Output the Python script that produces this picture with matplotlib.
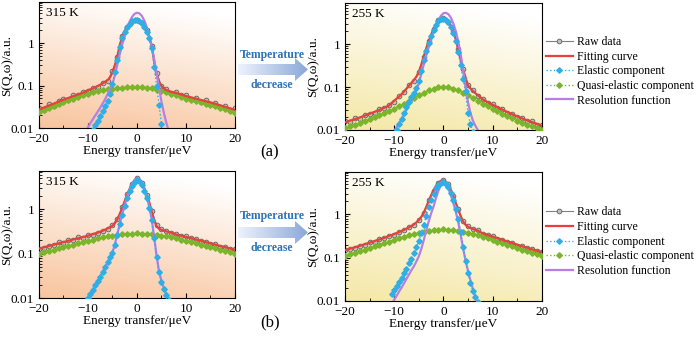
import numpy as np
import matplotlib
matplotlib.use('Agg')
import matplotlib.pyplot as plt
from matplotlib.patches import Polygon
from matplotlib.ticker import FixedLocator, LogLocator, NullFormatter

plt.rcParams['font.family'] = ['Liberation Serif', 'DejaVu Serif']
plt.rcParams['font.size'] = 9

# energy grids (ueV)
e_raw = np.arange(-20, 21)
e_mid = np.arange(-10.5, 7.5, 0.5)
e_fit = np.concatenate([np.arange(-20, -10), e_mid, np.arange(8, 21)])

temps = ['315 K', '255 K', '315 K', '255 K']
ytops = [9.3, 9.3, 7.3, 9.5]

# (a) 315 K
raw_a315 = [0.029, 0.027, 0.036, 0.034, 0.044, 0.049, 0.047, 0.060, 0.059, 0.072, 0.074, 0.090, 0.094, 0.118,
            0.13, 0.22, 0.47, 1.5, 2.4, 3.4, 3.6, 3.0, 2.0, 0.85, 0.2, 0.1, 0.083, 0.068, 0.07, 0.06, 0.059,
            0.048, 0.052, 0.041, 0.045, 0.037, 0.039, 0.032, 0.033, 0.027, 0.029]
fit_a315 = [0.0275, 0.0305, 0.0339, 0.0377, 0.042, 0.0467, 0.0514, 0.0566, 0.0621, 0.0681,
            0.073, 0.077, 0.082, 0.086, 0.092, 0.098, 0.105, 0.113, 0.124, 0.135, 0.156, 0.207, 0.306, 0.496,
            0.93, 1.42, 1.96, 2.50, 2.98, 3.34, 3.57, 3.57, 3.41, 3.05, 2.55, 1.96, 1.39, 0.886, 0.374, 0.191,
            0.122, 0.097, 0.085, 0.079, 0.075, 0.071,
            0.0674, 0.0618, 0.0569, 0.053, 0.0496, 0.0462, 0.0431, 0.0403, 0.0373, 0.0344, 0.0316, 0.0292, 0.0268]
ela_a315 = [0.0037, 0.0050, 0.0068, 0.0089, 0.0117, 0.0151, 0.0195, 0.0257, 0.0339, 0.0437, 0.063, 0.112,
            0.209, 0.398, 0.83, 1.32, 1.86, 2.40, 2.88, 3.24, 3.47, 3.47, 3.31, 2.95, 2.45, 1.86, 1.29, 0.79,
            0.28, 0.10, 0.035, 0.0126, 0.0045, 0.0016, 0.0006, 0.0002]
qe_a315 = [0.0239, 0.0265, 0.0295, 0.0328, 0.0365, 0.0406, 0.0447, 0.0492, 0.0540, 0.0592, 0.0646, 0.0692,
           0.0738, 0.0780, 0.0817, 0.0851, 0.0875, 0.0895, 0.0912, 0.0925, 0.093, 0.0920, 0.0895, 0.0859,
           0.0809, 0.0750, 0.0692, 0.0637, 0.0586, 0.0537, 0.0495, 0.0461, 0.0431, 0.0402, 0.0375, 0.0350,
           0.0324, 0.0299, 0.0275, 0.0254, 0.0233]
res_a315 = [0.0087, 0.0105, 0.0132, 0.0162, 0.0200, 0.0245, 0.0302, 0.0380, 0.0479, 0.0631, 0.0832, 0.110,
            0.178, 0.316, 0.562, 0.933, 1.51, 2.29, 3.24, 4.17, 4.90, 5.20, 5.01, 4.37, 3.39, 2.34, 1.41,
            0.832, 0.417, 0.191, 0.0891, 0.0417, 0.0224, 0.0132, 0.0083, 0.0050]

# (a) 255 K
raw_a255 = [0.016, 0.015, 0.019, 0.018, 0.022, 0.024, 0.025, 0.031, 0.032, 0.039, 0.046, 0.063, 0.077, 0.11,
            0.14, 0.23, 0.50, 1.2, 2.2, 3.6, 4.1, 3.3, 2.0, 0.78, 0.26, 0.11, 0.085, 0.062, 0.053, 0.043, 0.040,
            0.033, 0.031, 0.025, 0.024, 0.020, 0.019, 0.016, 0.016, 0.013, 0.013]
fit_a255 = [0.0151, 0.0165, 0.0178, 0.0196, 0.0216, 0.0239, 0.0265, 0.0294, 0.0331, 0.0374,
            0.043, 0.048, 0.054, 0.060, 0.068, 0.079, 0.092, 0.107, 0.125, 0.146, 0.173, 0.225, 0.330, 0.513,
            0.794, 1.16, 1.66, 2.26, 2.94, 3.52, 4.02, 4.08, 3.85, 3.37, 2.69, 1.98, 1.31, 0.769, 0.433, 0.254,
            0.169, 0.109, 0.092, 0.081, 0.072, 0.065,
            0.0515, 0.0446, 0.0388, 0.0339, 0.0298, 0.0263, 0.0233, 0.0208, 0.0186, 0.0168, 0.0153, 0.0139, 0.0126]
ela_a255 = [0.0050, 0.0071, 0.0100, 0.0135, 0.0182, 0.0251, 0.0339, 0.0447, 0.0575, 0.0741, 0.0955, 0.141,
            0.240, 0.417, 0.692, 1.05, 1.55, 2.14, 2.82, 3.39, 3.89, 3.95, 3.72, 3.24, 2.57, 1.86, 1.20, 0.661,
            0.331, 0.158, 0.0794, 0.0251, 0.0141, 0.0089, 0.0050, 0.0025]
qe_a255 = [0.0112, 0.0122, 0.0132, 0.0145, 0.016, 0.0177, 0.0196, 0.0218, 0.0245, 0.0277, 0.0315, 0.036,
           0.0414, 0.0478, 0.0555, 0.0642, 0.0737, 0.0833, 0.0918, 0.0978, 0.1, 0.0978, 0.0918, 0.0833,
           0.0737, 0.0642, 0.0555, 0.0478, 0.0412, 0.0357, 0.031, 0.0271, 0.0238, 0.021, 0.0186, 0.0166,
           0.0149, 0.0134, 0.0122, 0.0111, 0.0101]
res_a255 = [0.0079, 0.0095, 0.0117, 0.0145, 0.0182, 0.0229, 0.0295, 0.0380, 0.0490, 0.0646, 0.0851, 0.120,
            0.200, 0.331, 0.537, 0.832, 1.29, 1.91, 2.69, 3.63, 4.57, 5.25, 5.37, 5.01, 4.17, 3.09, 2.04,
            1.20, 0.603, 0.251, 0.100, 0.0447, 0.0251, 0.0166, 0.0126, 0.0100]

# (b) 315 K
raw_b315 = [0.13, 0.135, 0.15, 0.155, 0.18, 0.175, 0.20, 0.205, 0.235, 0.23, 0.26, 0.27, 0.30, 0.32, 0.36,
            0.44, 0.62, 1.1, 2.2, 3.8, 5.0, 3.9, 2.1, 0.92, 0.45, 0.36, 0.33, 0.30, 0.28, 0.25, 0.245, 0.22,
            0.21, 0.19, 0.185, 0.165, 0.165, 0.145, 0.14, 0.128, 0.125]
fit_b315 = [0.130, 0.139, 0.149, 0.159, 0.170, 0.182, 0.195, 0.209, 0.223, 0.238,
            0.245, 0.254, 0.265, 0.275, 0.287, 0.299, 0.314, 0.329, 0.348, 0.371, 0.395, 0.425, 0.487, 0.603,
            0.793, 1.09, 1.53, 2.13, 2.90, 3.78, 4.56, 4.96, 4.66, 3.94, 3.00, 2.11, 1.43, 0.903, 0.563, 0.418,
            0.365, 0.343, 0.329, 0.318, 0.308, 0.297,
            0.269, 0.254, 0.239, 0.224, 0.209, 0.196, 0.183, 0.171, 0.160, 0.149, 0.140, 0.131, 0.122]
ela_b315 = [0.0080, 0.0098, 0.0125, 0.0150, 0.0192, 0.0236, 0.0300, 0.0380, 0.0490, 0.0640, 0.0820, 0.105,
            0.160, 0.270, 0.455, 0.75, 1.18, 1.78, 2.55, 3.42, 4.20, 4.60, 4.30, 3.58, 2.65, 1.76, 1.08, 0.56,
            0.225, 0.085, 0.038, 0.023, 0.016, 0.0115, 0.0088, 0.006]
qe_b315 = [0.1003, 0.1071, 0.1144, 0.1224, 0.1309, 0.1401, 0.150, 0.1605, 0.1716, 0.1833, 0.1955, 0.208,
           0.2206, 0.2331, 0.2452, 0.2563, 0.2663, 0.2746, 0.2808, 0.2847, 0.286, 0.2847, 0.2808, 0.2746,
           0.2663, 0.2563, 0.2452, 0.2331, 0.2206, 0.208, 0.1955, 0.1833, 0.1716, 0.1605, 0.150, 0.1401,
           0.1309, 0.1224, 0.1144, 0.1071, 0.1003]
res_b315 = [0.0079, 0.0100, 0.0126, 0.0155, 0.0195, 0.0240, 0.0302, 0.0389, 0.0501, 0.0646, 0.0832, 0.107,
            0.166, 0.282, 0.479, 0.794, 1.26, 1.91, 2.75, 3.72, 4.57, 5.01, 4.68, 3.89, 2.88, 1.91, 1.17,
            0.603, 0.240, 0.0891, 0.0398, 0.0240, 0.0166, 0.0120, 0.0091, 0.0063]

# (b) 255 K
raw_b255 = [0.15, 0.16, 0.17, 0.19, 0.20, 0.225, 0.235, 0.27, 0.28, 0.32, 0.34, 0.40, 0.43, 0.51, 0.57, 0.75,
            1.05, 2.1, 3.5, 5.4, 6.1, 4.9, 2.6, 1.35, 0.70, 0.53, 0.45, 0.43, 0.36, 0.33, 0.31, 0.27, 0.26,
            0.23, 0.22, 0.19, 0.19, 0.165, 0.16, 0.14, 0.135]
fit_b255 = [0.149, 0.161, 0.173, 0.188, 0.204, 0.222, 0.241, 0.263, 0.286, 0.320,
            0.334, 0.351, 0.370, 0.390, 0.413, 0.438, 0.467, 0.501, 0.539, 0.586, 0.650, 0.737, 0.870, 1.08,
            1.47, 2.03, 2.75, 3.59, 4.55, 5.37, 5.95, 6.09, 5.69, 4.83, 3.71, 2.69, 1.86, 1.32, 0.912, 0.680,
            0.573, 0.518, 0.484, 0.459, 0.439, 0.420,
            0.364, 0.335, 0.307, 0.282, 0.258, 0.237, 0.218, 0.200, 0.184, 0.170, 0.156, 0.145, 0.134]
ela_b255 = [0.0148, 0.0182, 0.0224, 0.0275, 0.0347, 0.0437, 0.0562, 0.0741, 0.0955, 0.126, 0.174, 0.245,
            0.363, 0.562, 0.933, 1.48, 2.19, 3.02, 3.98, 4.79, 5.37, 5.50, 5.13, 4.27, 3.16, 2.14, 1.32, 0.794,
            0.398, 0.178, 0.0851, 0.0447, 0.0263, 0.0174, 0.0126, 0.0095]
qe_b255 = [0.1118, 0.1207, 0.1304, 0.1413, 0.1533, 0.1666, 0.1813, 0.1976, 0.2154, 0.235, 0.2562, 0.2791,
           0.3033, 0.3283, 0.3537, 0.3785, 0.4014, 0.4213, 0.4368, 0.4466, 0.45, 0.4466, 0.4368, 0.4213,
           0.4014, 0.3785, 0.3537, 0.3283, 0.3033, 0.2791, 0.2562, 0.235, 0.2154, 0.1976, 0.1813, 0.1666,
           0.1533, 0.1413, 0.1304, 0.1207, 0.1118]
res_b255 = [0.0087, 0.0107, 0.0132, 0.0166, 0.0204, 0.0257, 0.0324, 0.0407, 0.0513, 0.0631, 0.0813, 0.107,
            0.158, 0.251, 0.417, 0.676, 1.05, 1.51, 2.40, 3.55, 4.68, 5.20, 4.90, 3.98, 2.82, 1.86, 1.17,
            0.676, 0.339, 0.166, 0.0871, 0.0501, 0.0302, 0.0191, 0.0126, 0.0087]

panels = [(raw_a315, fit_a315, ela_a315, qe_a315, res_a315),
          (raw_a255, fit_a255, ela_a255, qe_a255, res_a255),
          (raw_b315, fit_b315, ela_b315, qe_b315, res_b315),
          (raw_b255, fit_b255, ela_b255, qe_b255, res_b255)]

positions = [[0.0557, 0.621, 0.28, 0.373],
             [0.4929, 0.6154, 0.281, 0.377],
             [0.0557, 0.1183, 0.28, 0.3757],
             [0.4929, 0.1095, 0.281, 0.3817]]
peach = np.array([0.976, 0.776, 0.627])
yellow = np.array([0.96, 0.91, 0.66])
shades = [peach, yellow, peach, yellow]


def shade(ax, color):
    yy, xx = np.mgrid[0:1:120j, 0:1:120j]
    t = np.clip(0.9 * (1 - yy) + 0.25 * (1 - xx) - 0.12, 0, 1)
    rgb = 1 - t[..., None] * (1 - color)
    ax.imshow(rgb, extent=[0, 1, 0, 1], transform=ax.transAxes, origin='lower',
              aspect='auto', zorder=0, interpolation='bilinear')


fig = plt.figure(figsize=(7, 3.38), dpi=100)

for i, (raw, fit, ela, qe, res) in enumerate(panels):
    ax = fig.add_axes(positions[i])
    shade(ax, shades[i])
    ax.set_yscale('log')
    ax.plot(e_raw, raw, '-o', color='#808080', lw=0.8, ms=3.4, mfc='#c0c0c0', mec='#5e5e5e', mew=0.6,
            label='Raw data', zorder=2)
    ax.plot(e_raw, qe, ':D', color='#7ab52a', lw=1.0, ms=2.8, label='Quasi-elastic component', zorder=3)
    ax.plot(e_fit, fit, '-', color='#e8413a', lw=1.6, label='Fitting curve', zorder=4)
    ax.plot(e_mid, res, '-', color='#b77fe6', lw=1.6, label='Resolution function', zorder=5)
    ax.plot(e_mid, ela, ':D', color='#30aee6', lw=1.0, ms=2.8, label='Elastic component', zorder=6)
    ax.set_xlim(-20, 20)
    ax.set_ylim(0.01, ytops[i])
    ax.xaxis.set_major_locator(FixedLocator([-20, -10, 0, 10, 20]))
    ax.xaxis.set_minor_locator(FixedLocator([-15, -5, 5, 15]))
    ax.yaxis.set_major_locator(FixedLocator([0.01, 0.1, 1]))
    ax.set_yticklabels(['0.01', '0.1', '1'])
    ax.yaxis.set_minor_locator(LogLocator(subs=np.arange(2, 10)))
    ax.yaxis.set_minor_formatter(NullFormatter())
    ax.tick_params(which='both', direction='in', labelsize=9.5)
    ax.tick_params(which='major', length=3.5)
    ax.tick_params(which='minor', length=2)
    ax.set_xlabel('Energy transfer/μeV', fontsize=9.5, labelpad=0)
    ax.set_ylabel('S(Q,ω)/a.u.', fontsize=9.5)
    ax.yaxis.set_label_coords(-0.132, 0.5)
    ax.text(0.035, 0.96, temps[i], transform=ax.transAxes, ha='left', va='top', fontsize=9.5, zorder=7)
    if i % 2 == 1:
        h, l = ax.get_legend_handles_labels()
        order = [0, 2, 4, 1, 3]
        ax.legend([h[k] for k in order], [l[k] for k in order], loc='center left',
                  bbox_to_anchor=(1.02, 0.46), frameon=False, fontsize=8.5, handlelength=2.3,
                  labelspacing=0.22, handletextpad=0.35, borderaxespad=0, borderpad=0)

# arrows and captions, drawn in pixel coordinates
ov = fig.add_axes([0, 0, 1, 1], zorder=10)
ov.axis('off')
grad = np.linspace(0, 1, 60)
arrow_rgb = (1 - grad)[None, :, None] * np.array([0.93, 0.95, 0.99]) + grad[None, :, None] * np.array([0.55, 0.66, 0.85])
for yc, tt, td in [(69.5, 55, 85), (232.5, 216, 248)]:
    pts = [(238, yc - 5.5), (295, yc - 5.5), (295, yc - 11.5), (308, yc), (295, yc + 11.5),
           (295, yc + 5.5), (238, yc + 5.5)]
    poly = Polygon(pts, closed=True, facecolor='none', edgecolor='none')
    ov.add_patch(poly)
    im = ov.imshow(arrow_rgb, extent=[238, 308, yc + 12, yc - 12], aspect='auto', interpolation='bilinear')
    im.set_clip_path(poly)
    ov.text(272, tt, 'Temperature', ha='center', va='center', color='#2f73b8', fontsize=8.5, fontweight='bold')
    ov.text(272, td, 'decrease', ha='center', va='center', color='#2f73b8', fontsize=8.5, fontweight='bold')
ov.text(270, 152, '(a)', ha='center', va='center', fontsize=12)
ov.text(270, 322, '(b)', ha='center', va='center', fontsize=12)
ov.set_xlim(0, 700)
ov.set_ylim(338, 0)

fig.savefig('out.png', dpi=100)
